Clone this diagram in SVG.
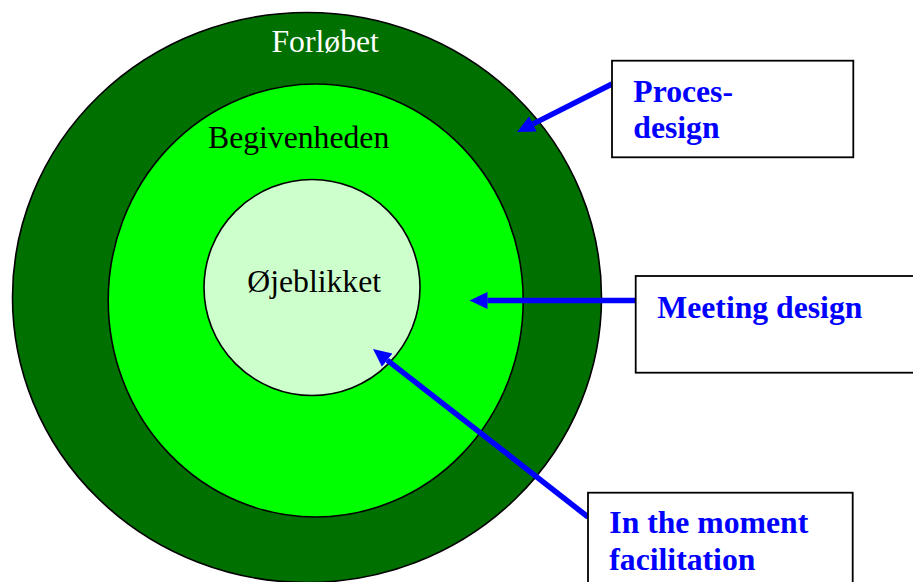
<svg xmlns="http://www.w3.org/2000/svg" width="913" height="582" viewBox="0 0 913 582">
<style>
.ring{stroke:#000;stroke-width:1.6}
.lbl{font-family:"Liberation Serif","Times New Roman",serif;font-size:31.7px}
.box{fill:#fff;stroke:#000;stroke-width:1.8}
.btxt{font-family:"Liberation Serif","Times New Roman",serif;font-size:31.7px;font-weight:bold;fill:#0000ff}
.conn{stroke:#0000ff;stroke-width:5.5;fill:none}
</style>
<defs>
<marker id="ah" markerUnits="userSpaceOnUse" markerWidth="20" markerHeight="20" viewBox="0 -10 20 20" refX="0" refY="0" orient="auto">
<path d="M0,-8.5 L18,0 L0,8.5 z" fill="#0000ff"/>
</marker>
</defs>
<rect width="913" height="582" fill="#fff"/>
<g id="forlobet">
<ellipse class="ring" cx="307" cy="297.5" rx="294.5" ry="285" fill="#007000"/>
<text class="lbl" x="271.5" y="52" fill="#fff">Forløbet</text>
</g>
<g id="begivenheden">
<ellipse class="ring" cx="315.7" cy="300.5" rx="207.5" ry="216.5" fill="#00ff00"/>
<text class="lbl" x="208" y="148.3" fill="#000">Begivenheden</text>
</g>
<g id="ojeblikket">
<circle class="ring" cx="312" cy="287.5" r="108" fill="#ccffcc"/>
<text class="lbl" x="247.3" y="291.7" fill="#000">Øjeblikket</text>
</g>
<g id="connectors">
<line class="conn" x1="612" y1="84" x2="533.1" y2="123.9" marker-end="url(#ah)"/>
<line class="conn" x1="636" y1="300.5" x2="487.5" y2="300.5" marker-end="url(#ah)"/>
<line class="conn" x1="588" y1="517" x2="387.2" y2="360.1" marker-end="url(#ah)"/>
</g>
<g id="procesdesign">
<rect class="box" x="612" y="60.7" width="241.3" height="96.6"/>
<text class="btxt" x="633.3" y="101.7">Proces-</text>
<text class="btxt" x="633.3" y="138.3">design</text>
</g>
<g id="meetingdesign">
<rect class="box" x="635.7" y="276" width="280" height="96.7"/>
<text class="btxt" x="657.3" y="317.7">Meeting design</text>
</g>
<g id="inthemoment">
<rect class="box" x="588" y="492.7" width="264.7" height="100"/>
<text class="btxt" x="609.3" y="532.7">In the moment</text>
<text class="btxt" x="609.3" y="570">facilitation</text>
</g>
</svg>
